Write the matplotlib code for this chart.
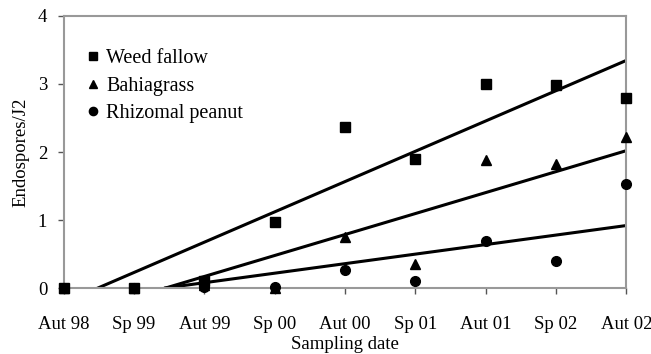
import numpy as np
import matplotlib.pyplot as plt

plt.rcParams['font.family'] = ['Liberation Serif', 'DejaVu Serif']

# fechas de muestreo
fechas = ["Aut 98", "Sp 99", "Aut 99", "Sp 00", "Aut 00", "Sp 01", "Aut 01", "Sp 02", "Aut 02"]

# endosporas por J2
weed = [0.0, 0.0, 0.1, 0.97, 2.37, 1.9, 3.0, 2.98, 2.8]
bahia = [0.0, 0.0, 0.05, 0.0, 0.75, 0.35, 1.88, 1.82, 2.22]
peanut = [0.0, 0.0, 0.02, 0.02, 0.27, 0.1, 0.7, 0.4, 1.53]

# rectas de tendencia (pendiente, intercepto)
tend_weed = (0.445, -0.214)
tend_bahia = (0.308, -0.444)
tend_peanut = (0.14, -0.20)

fig = plt.figure(figsize=(6.51, 3.54), dpi=100)
ax = fig.add_axes([0.098, 0.186, 0.864, 0.769])

x = np.arange(len(fechas))
xx = np.linspace(0, len(fechas) - 1, 200)
for m, b in [tend_weed, tend_bahia, tend_peanut]:
    yy = m * xx + b
    ok = yy >= 0
    ax.plot(xx[ok], yy[ok], color="black", lw=2.2, zorder=2)

ax.plot(x, weed, "s", color="black", ms=7, label="Weed fallow", clip_on=False, zorder=3)
ax.plot(x, bahia, "^", color="black", ms=7, label="Bahiagrass", clip_on=False, zorder=3)
ax.plot(x, peanut, "o", color="black", ms=7, label="Rhizomal peanut", clip_on=False, zorder=3)

ax.set_xlim(0, len(fechas) - 1)
ax.set_ylim(0, 4)
ax.set_xticks(x)
ax.set_xticklabels(fechas)
ax.set_yticks([0, 1, 2, 3, 4])
for s in ax.spines.values():
    s.set_color("#999999")
    s.set_linewidth(1.5)
ax.tick_params(axis="both", labelsize=13.5, color="#555555", length=4, width=1)
ax.tick_params(axis="x", pad=16)
ax.tick_params(axis="y", pad=8)
ax.set_xlabel("Sampling date", fontsize=13.5, labelpad=2)
ax.set_ylabel("Endospores/J2", fontsize=13.5, labelpad=6)

ax.legend(loc="upper left", frameon=False, fontsize=14.5, handletextpad=0.05,
          handlelength=1.2, borderaxespad=0.3, bbox_to_anchor=(0.006, 0.93), labelspacing=0.42,
          markerscale=0.85)

fig.savefig("out.png", dpi=100)
